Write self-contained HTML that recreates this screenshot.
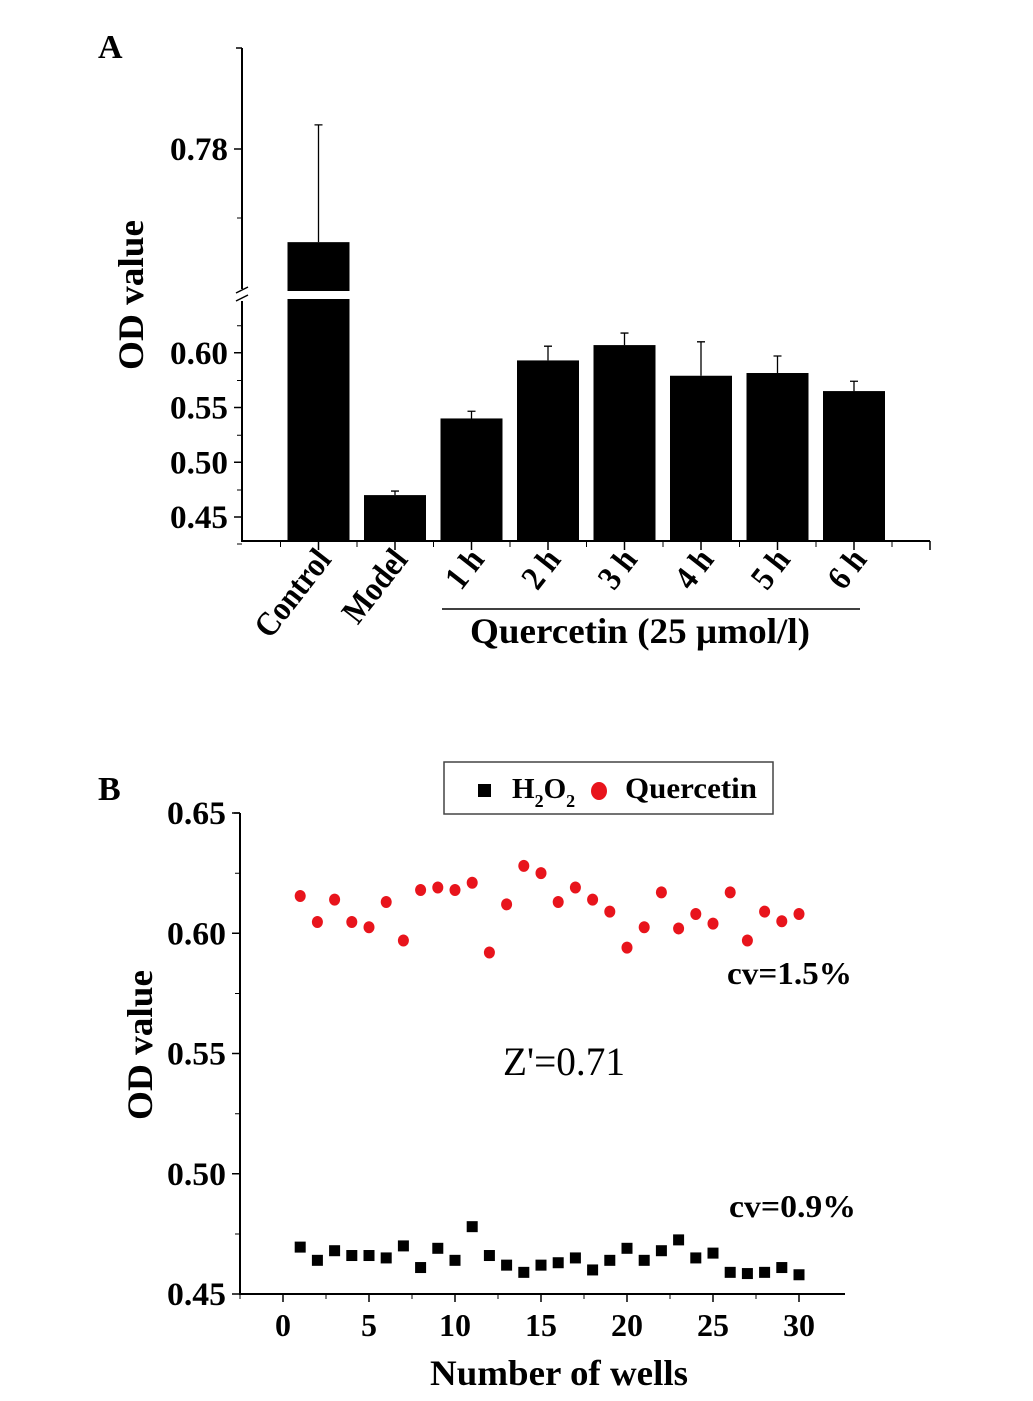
<!DOCTYPE html>
<html><head><meta charset="utf-8"><style>
html,body{margin:0;padding:0;background:#fff;}
svg{display:block;font-family:"Liberation Serif",serif;}
</style></head><body>
<svg id="fig" width="1033" height="1401" viewBox="0 0 1033 1401" xmlns="http://www.w3.org/2000/svg">
<g id="pa"></g>
<g id="pb"></g>
</svg>
<script>
// Panel A data
const catsA = ["Control","Model","1 h","2 h","3 h","4 h","5 h","6 h"];
const meansA = [0.753,0.470,0.540,0.593,0.607,0.579,0.5815,0.565];
const errsA = [0.034,0.0037,0.0066,0.013,0.011,0.031,0.0155,0.009];
const ticksA = ["0.45","0.50","0.55","0.60"];
const ticksAUpper = ["0.78"];
// Panel B data
const wells = [1,2,3,4,5,6,7,8,9,10,11,12,13,14,15,16,17,18,19,20,21,22,23,24,25,26,27,28,29,30];
const quercetin = [0.6155,0.6047,0.614,0.6047,0.6025,0.613,0.597,0.618,0.619,0.618,0.621,0.592,0.612,0.628,0.625,0.613,0.619,0.614,0.609,0.594,0.6025,0.617,0.602,0.608,0.604,0.617,0.597,0.609,0.605,0.608];
const h2o2 = [0.4695,0.464,0.468,0.466,0.466,0.465,0.470,0.461,0.469,0.464,0.478,0.466,0.462,0.459,0.462,0.463,0.465,0.460,0.464,0.469,0.464,0.468,0.4725,0.465,0.467,0.459,0.4585,0.459,0.461,0.458];
const ticksBY = ["0.45","0.50","0.55","0.60","0.65"];
const ticksBX = ["0","5","10","15","20","25","30"];

const NS="http://www.w3.org/2000/svg";
function mk(parent,tag,attrs,text){const e=document.createElementNS(NS,tag);for(const k in attrs)e.setAttribute(k,attrs[k]);if(text!==undefined)e.textContent=text;parent.appendChild(e);return e;}

// ---------- Panel A ----------
const pa=document.getElementById('pa');
const yLow=v=>517-(v-0.45)*1095;
const yUp=v=>149+(0.78-v)*3450;
const breakV=0.648;
const yA=v=>v>breakV?yUp(v):yLow(v);
const xA=i=>242+76.5*(i+1);
const baseY=541;
let t;
t=mk(pa,'text',{x:98,y:58,'font-size':34,'font-weight':'bold'},'A');

t=mk(pa,'line',{x1:242,y1:48,x2:242,y2:289,stroke:'#000','stroke-width':2});

t=mk(pa,'line',{x1:242,y1:301,x2:242,y2:542,stroke:'#000','stroke-width':2});

t=mk(pa,'path',{d:'M236 293 L248 287 M236 301 L248 295',stroke:'#000','stroke-width':1.5,fill:'none'});

t=mk(pa,'line',{x1:241,y1:541,x2:930,y2:541,stroke:'#000','stroke-width':2});

mk(pa,'line',{x1:242,y1:48,x2:236,y2:48,stroke:'#000','stroke-width':1.5});
ticksA.forEach(s=>{const v=parseFloat(s),y=yLow(v);
 mk(pa,'line',{x1:242,y1:y,x2:234,y2:y,stroke:'#000','stroke-width':1.5});
 mk(pa,'line',{x1:242,y1:y-27,x2:237,y2:y-27,stroke:'#000','stroke-width':1});
 const e=mk(pa,'text',{x:170,y:y+11,'font-size':33,'font-weight':'bold',textLength:58,lengthAdjust:'spacingAndGlyphs'},s);
 });
mk(pa,'line',{x1:242,y1:yLow(0.45)+27,x2:237,y2:yLow(0.45)+27,stroke:'#000','stroke-width':1});
ticksAUpper.forEach(s=>{const v=parseFloat(s),y=yUp(v);
 mk(pa,'line',{x1:242,y1:y,x2:234,y2:y,stroke:'#000','stroke-width':1.5});
 mk(pa,'line',{x1:242,y1:y+69,x2:237,y2:y+69,stroke:'#000','stroke-width':1});
 const e=mk(pa,'text',{x:170,y:y+11,'font-size':33,'font-weight':'bold',textLength:58,lengthAdjust:'spacingAndGlyphs'},s);
 });
t=mk(pa,'text',{x:0,y:0,'font-size':36,'font-weight':'bold','text-anchor':'middle',textLength:150,lengthAdjust:'spacingAndGlyphs',transform:'translate(143,295) rotate(-90)'},'OD value');

catsA.forEach((c,i)=>{const cx=xA(i),m=meansA[i],top=yA(m),et=yA(m+errsA[i]);
 const b=mk(pa,'rect',{x:cx-31,y:top,width:62,height:baseY-top,fill:'#000'});
 
 const e=mk(pa,'path',{d:`M${cx} ${top} L${cx} ${et} M${cx-4} ${et} L${cx+4} ${et}`,stroke:'#000','stroke-width':1.3,fill:'none'});
 
 mk(pa,'line',{x1:cx,y1:541,x2:cx,y2:550,stroke:'#000','stroke-width':1.5});
 mk(pa,'line',{x1:cx-38,y1:541,x2:cx-38,y2:547,stroke:'#000','stroke-width':1});
 const l=mk(pa,'text',{x:0,y:0,'font-size':34,'font-weight':'bold','text-anchor':'end',transform:`translate(${cx+14},${560}) rotate(-52) scale(0.9,1)`},c);
 
 if(m>breakV){mk(pa,'rect',{x:cx-33,y:291,width:66,height:8,fill:'#fff'});}
});
mk(pa,'line',{x1:xA(7)+38,y1:541,x2:xA(7)+38,y2:547,stroke:'#000','stroke-width':1});
mk(pa,'line',{x1:930,y1:541,x2:930,y2:550,stroke:'#000','stroke-width':1.5});
t=mk(pa,'line',{x1:442,y1:609,x2:860,y2:609,stroke:'#000','stroke-width':1.5});

t=mk(pa,'text',{x:470,y:643,'font-size':36,'font-weight':'bold',textLength:340,lengthAdjust:'spacingAndGlyphs'},'Quercetin (25 µmol/l)');


// ---------- Panel B ----------
const pb=document.getElementById('pb');
const yB=v=>1294-(v-0.45)*2405;
const xB=w=>283+w*17.2;
t=mk(pb,'text',{x:98,y:800,'font-size':34,'font-weight':'bold'},'B');

t=mk(pb,'line',{x1:240,y1:813,x2:240,y2:1295,stroke:'#000','stroke-width':2});

t=mk(pb,'line',{x1:239,y1:1294,x2:845,y2:1294,stroke:'#000','stroke-width':2});

mk(pb,'line',{x1:240,y1:813,x2:234,y2:813,stroke:'#000','stroke-width':1.5});
ticksBY.forEach(s=>{const v=parseFloat(s),y=yB(v);
 mk(pb,'line',{x1:240,y1:y,x2:232,y2:y,stroke:'#000','stroke-width':1.5});
 if(v<0.65)mk(pb,'line',{x1:240,y1:y-60,x2:235,y2:y-60,stroke:'#000','stroke-width':1});
 const e=mk(pb,'text',{x:167,y:y+11,'font-size':33,'font-weight':'bold',textLength:59,lengthAdjust:'spacingAndGlyphs'},s);
 });
ticksBX.forEach(s=>{const v=parseFloat(s),x=xB(v);
 mk(pb,'line',{x1:x,y1:1294,x2:x,y2:1302,stroke:'#000','stroke-width':1.5});
 if(v<30)mk(pb,'line',{x1:x+43,y1:1294,x2:x+43,y2:1299,stroke:'#000','stroke-width':1});
 const e=mk(pb,'text',{x:x,y:1336,'font-size':32,'font-weight':'bold','text-anchor':'middle'},s);
 });
mk(pb,'line',{x1:xB(0)-43,y1:1294,x2:xB(0)-43,y2:1299,stroke:'#000','stroke-width':1});
t=mk(pb,'text',{x:430,y:1385,'font-size':36,'font-weight':'bold',textLength:258,lengthAdjust:'spacingAndGlyphs'},'Number of wells');

t=mk(pb,'text',{x:0,y:0,'font-size':36,'font-weight':'bold','text-anchor':'middle',textLength:150,lengthAdjust:'spacingAndGlyphs',transform:'translate(152,1045) rotate(-90)'},'OD value');

wells.forEach((w,i)=>{
 const c=mk(pb,'ellipse',{cx:xB(w),cy:yB(quercetin[i]),rx:5.5,ry:6,fill:'#e8141c'});
 
 const s=mk(pb,'rect',{x:xB(w)-5.5,y:yB(h2o2[i])-5.5,width:11,height:11,fill:'#000'});
 
});
t=mk(pb,'text',{x:727,y:984,'font-size':32,'font-weight':'bold',textLength:125,lengthAdjust:'spacingAndGlyphs'},'cv=1.5%');

t=mk(pb,'text',{x:729,y:1217,'font-size':32,'font-weight':'bold',textLength:127,lengthAdjust:'spacingAndGlyphs'},'cv=0.9%');

t=mk(pb,'text',{x:503,y:1075,'font-size':40,textLength:122,lengthAdjust:'spacingAndGlyphs'},"Z'=0.71");

const lg=mk(pb,'g',{});

mk(lg,'rect',{x:444,y:762,width:329,height:52,fill:'#fff',stroke:'#444','stroke-width':1.5});
mk(lg,'rect',{x:478,y:784,width:13,height:13,fill:'#000'});
const l1=mk(lg,'text',{x:512,y:798,'font-size':29,'font-weight':'bold'});

mk(l1,'tspan',{},'H');mk(l1,'tspan',{'font-size':18,dy:9},'2');mk(l1,'tspan',{dy:-9},'O');mk(l1,'tspan',{'font-size':18,dy:9},'2');
mk(lg,'ellipse',{cx:599,cy:791,rx:8,ry:9,fill:'#e8141c'});
const l2=mk(lg,'text',{x:625,y:798,'font-size':30,'font-weight':'bold',textLength:132,lengthAdjust:'spacingAndGlyphs'},'Quercetin');

</script>
</body></html>
